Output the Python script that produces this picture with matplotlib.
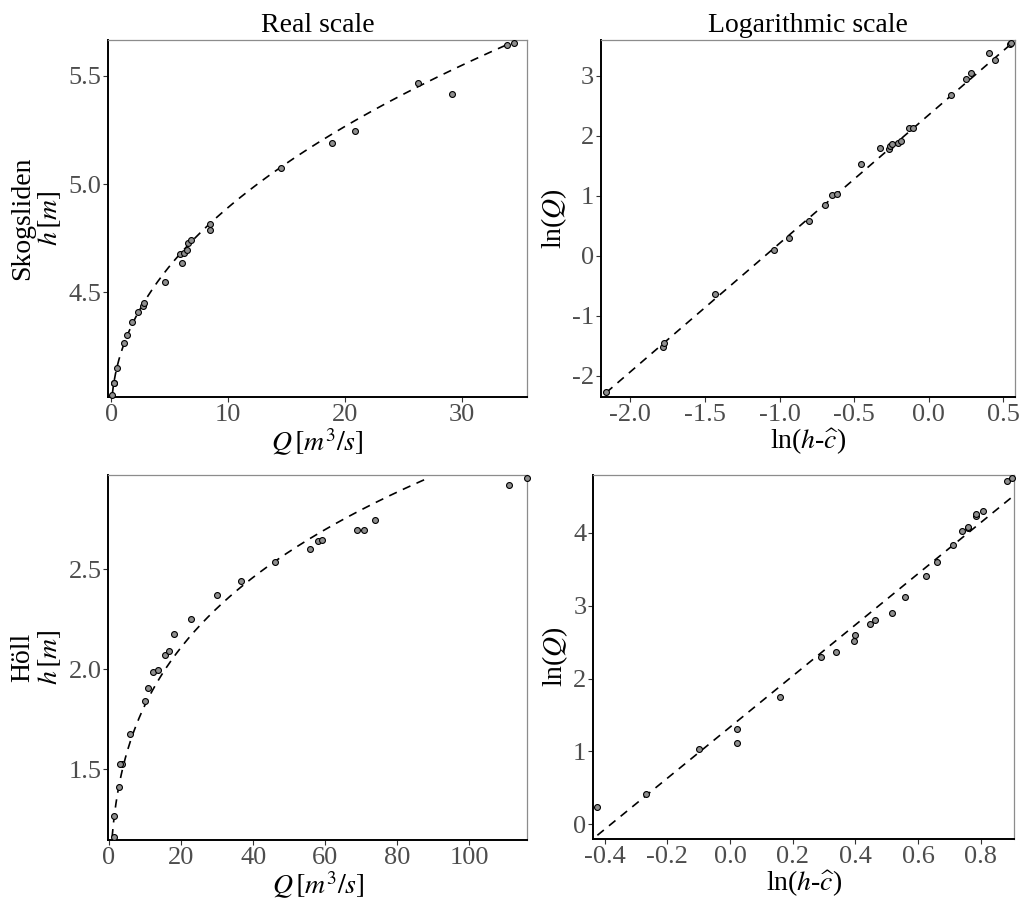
#---------------------------- REQUIRED LIBRARIES ------------------------------

import numpy as np
import matplotlib
matplotlib.use("Agg")
import matplotlib.pyplot as plt

#------------------------------------ DATA ------------------------------------

#Skogsliden gauging: stage h [m] and discharge Q [m^3/s]
skog_h = [4.027, 4.080, 4.082, 4.151, 4.266, 4.303, 4.361, 4.411, 4.435
          , 4.451, 4.546, 4.635, 4.677, 4.681, 4.694, 4.726, 4.741, 4.787
          , 4.814, 5.076, 5.191, 5.243, 5.414, 5.468, 5.640, 5.652]
skog_q = [0.103, 0.220, 0.235, 0.525, 1.10, 1.35, 1.79, 2.33, 2.74, 2.80
          , 4.59, 6.05, 5.92, 6.22, 6.47, 6.57, 6.80, 8.44, 8.44, 14.56
          , 18.92, 20.9, 29.17, 26.23, 33.88, 34.47]

#Holl gauging
holl_h = [1.158, 1.267, 1.410, 1.527, 1.527, 1.677, 1.839, 1.907, 1.986
          , 1.993, 2.068, 2.089, 2.177, 2.252, 2.371, 2.440, 2.537, 2.599
          , 2.638, 2.643, 2.695, 2.698, 2.747, 2.921, 2.958]
holl_q = [1.27, 1.52, 2.80, 3.68, 3.05, 5.75, 9.89, 10.7, 12.3, 13.5, 15.6
          , 16.6, 18.1, 22.8, 30.1, 36.5, 46.1, 55.9, 58.1, 59.1, 68.9, 70.7
          , 73.7, 111.0, 116.0]

#fitted rating curve Q = a * (h - c)^b
skog_fit = {"a": 10.46, "b": 2.141, "c": 3.912}
holl_fit = {"a": 3.79, "b": 3.513, "c": 0.503}

#----------------------------------- STYLE ------------------------------------

plt.rcParams["font.family"] = ["Liberation Serif", "DejaVu Serif"]
plt.rcParams["mathtext.fontset"] = "stix"
plt.rcParams["axes.unicode_minus"] = False

TICK_COL = "#4d4d4d"
FS = 20

def styleAxes (ax, xticks, xlabels, yticks, ylabels, xlim, ylim):

    ax.set_xlim(xlim)
    ax.set_ylim(ylim)
    ax.set_xticks(xticks)
    ax.set_xticklabels(xlabels)
    ax.set_yticks(yticks)
    ax.set_yticklabels(ylabels)

    #black axis lines left/bottom, thin grey frame top/right
    for side in ["left", "bottom"]:
        ax.spines[side].set_color("black")
        ax.spines[side].set_linewidth(1.4)
    for side in ["top", "right"]:
        ax.spines[side].set_color("#8c8c8c")
        ax.spines[side].set_linewidth(0.9)

    ax.tick_params(direction="out", length=3.5, width=0.8, color="#333333"
                   , labelcolor=TICK_COL, labelsize=FS - 1, pad=1.5)

def drawPanels (ax_real, ax_log, h, q, fit):

    h = np.asarray(h)
    q = np.asarray(q)
    a, b, c = fit["a"], fit["b"], fit["c"]

    #fitted curve over the observed stage range
    h_grid = np.linspace(h.min(), h.max(), 300)
    q_grid = a * (h_grid - c) ** b

    ax_real.plot(q_grid, h_grid, color="black", lw=1.2
                 , linestyle=(0, (5, 4)), zorder=2)
    ax_real.scatter(q, h, s=18, facecolor="#8f8f8f", edgecolor="black"
                    , linewidth=0.8, zorder=3, clip_on=False)

    #same data on log-log axes
    x_log = np.log(h - c)
    y_log = np.log(q)
    x_line = np.log(h_grid - c)
    ax_log.plot(x_line, np.log(a) + b * x_line, color="black", lw=1.2
                , linestyle=(0, (5, 4)), zorder=2)
    ax_log.scatter(x_log, y_log, s=18, facecolor="#8f8f8f", edgecolor="black"
                   , linewidth=0.8, zorder=3, clip_on=False)

#--------------------------------- MAIN CODE ----------------------------------

fig = plt.figure(figsize=(10.23, 9.07), dpi=100)

ax_tl = fig.add_axes([0.1056, 0.5623, 0.4096, 0.3936])
ax_tr = fig.add_axes([0.5875, 0.5623, 0.4047, 0.3936])
ax_bl = fig.add_axes([0.1059, 0.0739, 0.4096, 0.4027])
ax_br = fig.add_axes([0.5800, 0.0749, 0.4112, 0.4017])

drawPanels(ax_tl, ax_tr, skog_h, skog_q, skog_fit)
drawPanels(ax_bl, ax_br, holl_h, holl_q, holl_fit)

#Skogsliden
styleAxes(ax_tl, [0, 10, 20, 30], ["0", "10", "20", "30"]
          , [4.5, 5.0, 5.5], ["4.5", "5.0", "5.5"]
          , (-0.26, 35.6), (4.017, 5.665))
styleAxes(ax_tr, [-2.0, -1.5, -1.0, -0.5, 0.0, 0.5]
          , ["-2.0", "-1.5", "-1.0", "-0.5", "0.0", "0.5"]
          , [-2, -1, 0, 1, 2, 3], ["-2", "-1", "0", "1", "2", "3"]
          , (-2.197, 0.578), (-2.355, 3.595))

#Holl
styleAxes(ax_bl, [0, 20, 40, 60, 80, 100]
          , ["0", "20", "40", "60", "80", "100"]
          , [1.5, 2.0, 2.5], ["1.5", "2.0", "2.5"]
          , (-0.19, 116.1), (1.145, 2.972))
styleAxes(ax_br, [-0.4, -0.2, 0.0, 0.2, 0.4, 0.6, 0.8]
          , ["-0.4", "-0.2", "0.0", "0.2", "0.4", "0.6", "0.8"]
          , [0, 1, 2, 3, 4], ["0", "1", "2", "3", "4"]
          , (-0.436, 0.906), (-0.206, 4.80))

#column titles
ax_tl.set_title("Real scale", fontsize=FS, pad=6)
ax_tr.set_title("Logarithmic scale", fontsize=FS, pad=6)

#axis labels
for ax in [ax_tl, ax_bl]:
    ax.set_xlabel(r"$Q\,[m^3/s]$", fontsize=FS, labelpad=0)
for ax in [ax_tr, ax_br]:
    ax.set_xlabel(r"ln($h$-$\widehat{c}$)", fontsize=FS, labelpad=0)
    ax.set_ylabel(r"ln($Q$)", fontsize=FS, labelpad=2)

ax_tl.set_ylabel("Skogsliden\n" + r"$h\,[m]$", fontsize=FS, labelpad=4
                 , linespacing=1.05)
ax_bl.set_ylabel("Höll\n" + r"$h\,[m]$", fontsize=FS, labelpad=4
                 , linespacing=1.05)

fig.savefig("out.png", dpi=100, facecolor="white")
